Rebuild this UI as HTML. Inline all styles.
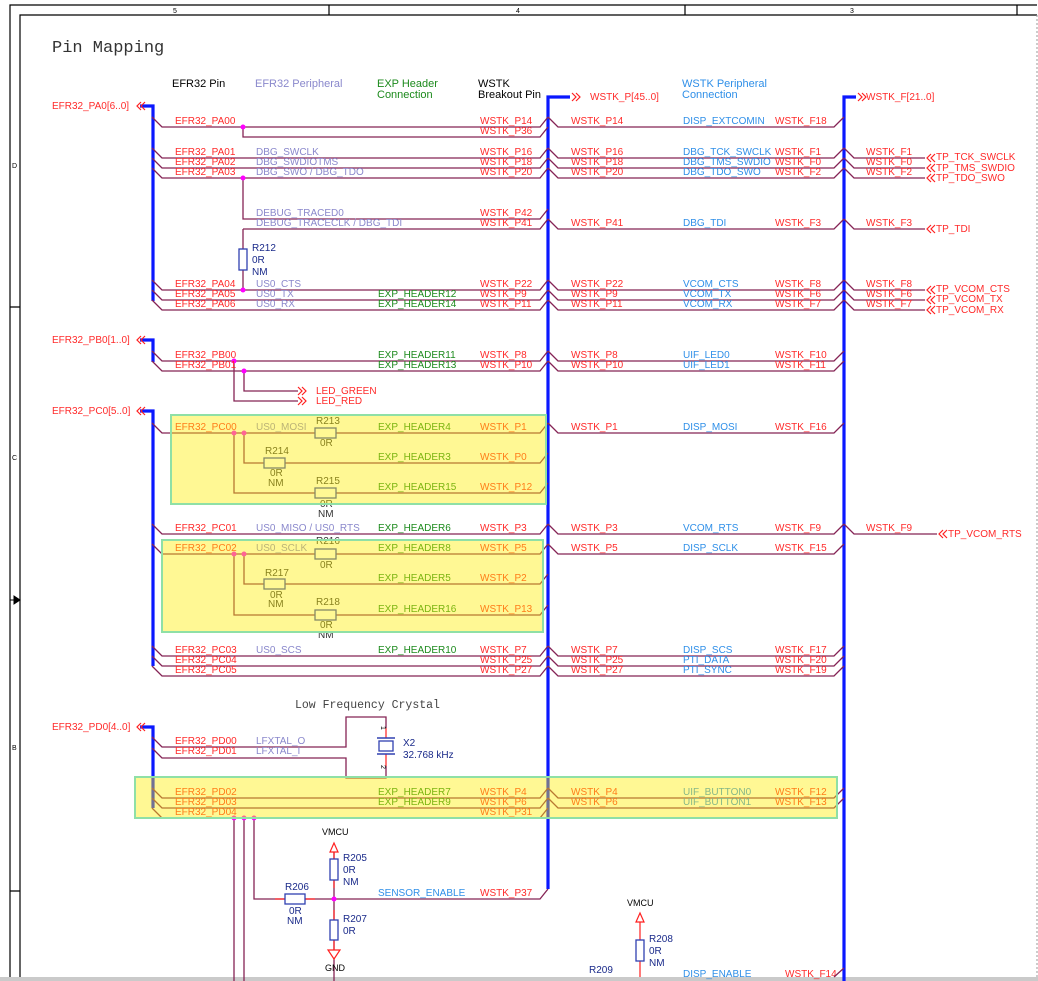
<!DOCTYPE html>
<html><head><meta charset="utf-8"><style>
html,body{margin:0;padding:0;background:#fff;}
svg{display:block;}
text{font-family:"Liberation Sans",sans-serif;font-size:10px;}
.r{fill:#ff2a2a}.p{fill:#8a88cc}.g{fill:#1c8a1c}.b{fill:#2f8fe8}.k{fill:#000}.n{fill:#1a2a8a}
.w{fill:none;stroke:#852455;stroke-width:1.3}
.bus{fill:none;stroke:#0a18ff;stroke-width:3.2}
.ar{fill:none;stroke:#ff2020;stroke-width:1.2}
.res{fill:#fff;stroke:#3040b0;stroke-width:1.3}
.red{stroke:#ff2020;stroke-width:1.2;fill:none}
.fr{stroke:#000;stroke-width:1.2;fill:none}
</style></head><body>
<svg width="1038" height="981" viewBox="0 0 1038 981" xmlns="http://www.w3.org/2000/svg">
<!-- frame -->
<path class="fr" d="M10 981V5H1037M20 981V15H1037M329 5V15M685 5V15M1017 5V15M10 307H20M10 891H20"/>
<line x1="1037" y1="15" x2="1037" y2="981" stroke="#999" stroke-dasharray="2,2"/>
<path d="M10 600H20M14 596L20 600L14 604Z" fill="#000" stroke="#000"/>
<text x="173" y="13" style="font-size:7px">5</text><text x="516" y="13" style="font-size:7px">4</text><text x="850" y="13" style="font-size:7px">3</text>
<text x="12" y="168" style="font-size:7px">D</text><text x="12" y="460" style="font-size:7px">C</text><text x="12" y="750" style="font-size:7px">B</text>
<rect x="0" y="977" width="1038" height="4" fill="#cacaca"/>

<text x="52" y="52" style="font-family:'Liberation Mono',monospace;font-size:17px;fill:#333">Pin Mapping</text>
<text x="172" y="87" class="k" style="font-size:11px">EFR32 Pin</text>
<text x="255" y="87" class="p" style="font-size:11px">EFR32 Peripheral</text>
<text x="377" y="87" class="g" style="font-size:11px">EXP Header</text><text x="377" y="98" class="g" style="font-size:11px">Connection</text>
<text x="478" y="87" class="k" style="font-size:11px">WSTK</text><text x="478" y="98" class="k" style="font-size:11px">Breakout Pin</text>
<text x="682" y="87" class="b" style="font-size:11px">WSTK Peripheral</text><text x="682" y="98" class="b" style="font-size:11px">Connection</text>

<!-- buses -->
<path class="bus" d="M140 106H153V301M140 340H153V362M140 411H153V666M140 727H153V808M548 889V97H570M844 981V97H856"/>
<path class="ar" d="M141 102L137 106L141 110M145 102L141 106L145 110M141 336L137 340L141 344M145 336L141 340L145 344M141 407L137 411L141 415M145 407L141 411L145 415M141 723L137 727L141 731M145 723L141 727L145 731"/>
<path class="ar" d="M572 93L576 97L572 101M576 93L580 97L576 101M858 93L862 97L858 101M862 93L866 97L862 101"/>
<text x="52" y="109" class="r">EFR32_PA0[6..0]</text>
<text x="52" y="343" class="r">EFR32_PB0[1..0]</text>
<text x="52" y="414" class="r">EFR32_PC0[5..0]</text>
<text x="52" y="730" class="r">EFR32_PD0[4..0]</text>
<text x="590" y="100" class="r">WSTK_P[45..0]</text>
<text x="866" y="100" class="r">WSTK_F[21..0]</text>

<!-- PA wires -->
<path class="w" d="M152 117L162 127H540L548 117M243 127V137H540L548 127
M152 148L162 158H540L548 148M152 158L162 168H540L548 158M152 168L162 178H540L548 168
M243 178V219H540L548 209M243 229H540L548 219M243 229V290
M152 280L162 290H540L548 280M152 290L162 300H540L548 290M152 300L162 310H540L548 300"/>
<path class="w" d="M548 117L558 127H834L844 117
M548 148L558 158H834L844 148M548 158L558 168H834L844 158M548 168L558 178H834L844 168
M548 219L558 229H834L844 219
M548 280L558 290H834L844 280M548 290L558 300H834L844 290M548 300L558 310H834L844 300
M844 148L854 158H925M844 158L854 168H925M844 168L854 178H925M844 219L854 229H925
M844 280L854 290H925M844 290L854 300H925M844 300L854 310H925"/>
<path class="ar" d="M931 154L927 158L931 162M935 154L931 158L935 162M931 164L927 168L931 172M935 164L931 168L935 172M931 174L927 178L931 182M935 174L931 178L935 182M931 225L927 229L931 233M935 225L931 229L935 233M931 286L927 290L931 294M935 286L931 290L935 294M931 296L927 300L931 304M935 296L931 300L935 304M931 306L927 310L931 314M935 306L931 310L935 314"/>
<rect class="res" x="239" y="249" width="8" height="21"/>
<g fill="#ff00ff"><circle cx="243" cy="127" r="2.5"/><circle cx="243" cy="178" r="2.5"/><circle cx="243" cy="290" r="2.5"/></g>
<text x="252" y="251" class="n">R212</text><text x="252" y="263" class="n">0R</text><text x="252" y="275" class="n">NM</text>

<g class="r">
<text x="175" y="124">EFR32_PA00</text><text x="480" y="124">WSTK_P14</text><text x="480" y="134">WSTK_P36</text>
<text x="175" y="155">EFR32_PA01</text><text x="175" y="165">EFR32_PA02</text><text x="175" y="175">EFR32_PA03</text>
<text x="480" y="155">WSTK_P16</text><text x="480" y="165">WSTK_P18</text><text x="480" y="175">WSTK_P20</text>
<text x="480" y="216">WSTK_P42</text><text x="480" y="226">WSTK_P41</text>
<text x="175" y="287">EFR32_PA04</text><text x="175" y="297">EFR32_PA05</text><text x="175" y="307">EFR32_PA06</text>
<text x="480" y="287">WSTK_P22</text><text x="480" y="297">WSTK_P9</text><text x="480" y="307">WSTK_P11</text>
<text x="571" y="124">WSTK_P14</text><text x="775" y="124">WSTK_F18</text>
<text x="571" y="155">WSTK_P16</text><text x="571" y="165">WSTK_P18</text><text x="571" y="175">WSTK_P20</text>
<text x="775" y="155">WSTK_F1</text><text x="775" y="165">WSTK_F0</text><text x="775" y="175">WSTK_F2</text>
<text x="866" y="155">WSTK_F1</text><text x="866" y="165">WSTK_F0</text><text x="866" y="175">WSTK_F2</text>
<text x="571" y="226">WSTK_P41</text><text x="775" y="226">WSTK_F3</text><text x="866" y="226">WSTK_F3</text>
<text x="571" y="287">WSTK_P22</text><text x="571" y="297">WSTK_P9</text><text x="571" y="307">WSTK_P11</text>
<text x="775" y="287">WSTK_F8</text><text x="775" y="297">WSTK_F6</text><text x="775" y="307">WSTK_F7</text>
<text x="866" y="287">WSTK_F8</text><text x="866" y="297">WSTK_F6</text><text x="866" y="307">WSTK_F7</text>
<text x="936" y="160">TP_TCK_SWCLK</text><text x="936" y="171">TP_TMS_SWDIO</text><text x="936" y="181">TP_TDO_SWO</text>
<text x="936" y="232">TP_TDI</text>
<text x="936" y="292">TP_VCOM_CTS</text><text x="936" y="302">TP_VCOM_TX</text><text x="936" y="313">TP_VCOM_RX</text>
</g>
<g class="p">
<text x="256" y="155">DBG_SWCLK</text><text x="256" y="165">DBG_SWDIOTMS</text><text x="256" y="175">DBG_SWO / DBG_TDO</text>
<text x="256" y="216">DEBUG_TRACED0</text><text x="256" y="226">DEBUG_TRACECLK / DBG_TDI</text>
<text x="256" y="287">US0_CTS</text><text x="256" y="297">US0_TX</text><text x="256" y="307">US0_RX</text>
</g>
<text x="378" y="297" class="g">EXP_HEADER12</text><text x="378" y="307" class="g">EXP_HEADER14</text>
<g class="b">
<text x="683" y="124">DISP_EXTCOMIN</text>
<text x="683" y="155">DBG_TCK_SWCLK</text><text x="683" y="165">DBG_TMS_SWDIO</text><text x="683" y="175">DBG_TDO_SWO</text>
<text x="683" y="226">DBG_TDI</text>
<text x="683" y="287">VCOM_CTS</text><text x="683" y="297">VCOM_TX</text><text x="683" y="307">VCOM_RX</text>
</g>

<!-- PB -->
<path class="w" d="M152 351L162 361H540L548 351M152 361L162 371H540L548 361M548 351L558 361H834L844 351M548 361L558 371H834L844 361
M234 361V401H298M244 371V391H298"/>
<path class="ar" d="M298 387L302 391L298 395M302 387L306 391L302 395M298 397L302 401L298 405M302 397L306 401L302 405"/>
<g fill="#ff00ff"><circle cx="234" cy="361" r="2.5"/><circle cx="244" cy="371" r="2.5"/></g>
<g class="r"><text x="175" y="358">EFR32_PB00</text><text x="175" y="368">EFR32_PB01</text>
<text x="480" y="358">WSTK_P8</text><text x="480" y="368">WSTK_P10</text><text x="571" y="358">WSTK_P8</text><text x="571" y="368">WSTK_P10</text>
<text x="775" y="358">WSTK_F10</text><text x="775" y="368">WSTK_F11</text>
<text x="316" y="394">LED_GREEN</text><text x="316" y="404">LED_RED</text></g>
<text x="378" y="358" class="g">EXP_HEADER11</text><text x="378" y="368" class="g">EXP_HEADER13</text>
<text x="683" y="358" class="b">UIF_LED0</text><text x="683" y="368" class="b">UIF_LED1</text>

<!-- PC -->
<path class="w" d="M152 423L162 433H540L548 423M244 433V463H540L548 453M234 433V493H540L548 483
M152 524L162 534H540L548 524M152 544L162 554H540L548 544M244 554V584H540L548 574M234 554V615H540L548 605
M152 646L162 656H540L548 646M152 656L162 666H540L548 656M152 666L162 676H540L548 666
M548 423L558 433H834L844 423M548 524L558 534H834L844 524M548 544L558 554H834L844 544
M548 646L558 656H834L844 646M548 656L558 666H834L844 656M548 666L558 676H834L844 666
M844 524L854 534H937"/>
<path class="ar" d="M943 530L939 534L943 538M947 530L943 534L947 538"/>
<rect class="res" x="315" y="428" width="21" height="10"/><rect class="res" x="264" y="458" width="21" height="10"/><rect class="res" x="315" y="488" width="21" height="10"/>
<rect class="res" x="315" y="549" width="21" height="10"/><rect class="res" x="264" y="579" width="21" height="10"/><rect class="res" x="315" y="610" width="21" height="10"/>
<g fill="#ff00ff"><circle cx="234" cy="433" r="2.5"/><circle cx="244" cy="433" r="2.5"/><circle cx="234" cy="554" r="2.5"/><circle cx="244" cy="554" r="2.5"/></g>
<g class="n" style="fill:#333">
<text x="316" y="424">R213</text><text x="320" y="446">0R</text>
<text x="265" y="454">R214</text><text x="270" y="476">0R</text><text x="268" y="486">NM</text>
<text x="316" y="484">R215</text><text x="320" y="507">0R</text><text x="318" y="517">NM</text>
<text x="316" y="544">R216</text><text x="320" y="568">0R</text>
<text x="265" y="576">R217</text><text x="270" y="598">0R</text><text x="268" y="607">NM</text>
<text x="316" y="605">R218</text><text x="320" y="628">0R</text><text x="318" y="638">NM</text>
</g>
<g class="r">
<text x="175" y="430">EFR32_PC00</text><text x="480" y="430">WSTK_P1</text><text x="480" y="460">WSTK_P0</text><text x="480" y="490">WSTK_P12</text>
<text x="175" y="531">EFR32_PC01</text><text x="480" y="531">WSTK_P3</text>
<text x="175" y="551">EFR32_PC02</text><text x="480" y="551">WSTK_P5</text><text x="480" y="581">WSTK_P2</text><text x="480" y="612">WSTK_P13</text>
<text x="175" y="653">EFR32_PC03</text><text x="175" y="663">EFR32_PC04</text><text x="175" y="673">EFR32_PC05</text>
<text x="480" y="653">WSTK_P7</text><text x="480" y="663">WSTK_P25</text><text x="480" y="673">WSTK_P27</text>
<text x="571" y="430">WSTK_P1</text><text x="775" y="430">WSTK_F16</text>
<text x="571" y="531">WSTK_P3</text><text x="775" y="531">WSTK_F9</text><text x="866" y="531">WSTK_F9</text><text x="948" y="537">TP_VCOM_RTS</text>
<text x="571" y="551">WSTK_P5</text><text x="775" y="551">WSTK_F15</text>
<text x="571" y="653">WSTK_P7</text><text x="571" y="663">WSTK_P25</text><text x="571" y="673">WSTK_P27</text>
<text x="775" y="653">WSTK_F17</text><text x="775" y="663">WSTK_F20</text><text x="775" y="673">WSTK_F19</text>
</g>
<g class="p"><text x="256" y="430">US0_MOSI</text><text x="256" y="531">US0_MISO / US0_RTS</text><text x="256" y="551">US0_SCLK</text><text x="256" y="653">US0_SCS</text></g>
<g class="g"><text x="378" y="430">EXP_HEADER4</text><text x="378" y="460">EXP_HEADER3</text><text x="378" y="490">EXP_HEADER15</text>
<text x="378" y="531">EXP_HEADER6</text><text x="378" y="551">EXP_HEADER8</text><text x="378" y="581">EXP_HEADER5</text><text x="378" y="612">EXP_HEADER16</text>
<text x="378" y="653">EXP_HEADER10</text></g>
<g class="b"><text x="683" y="430">DISP_MOSI</text><text x="683" y="531">VCOM_RTS</text><text x="683" y="551">DISP_SCLK</text>
<text x="683" y="653">DISP_SCS</text><text x="683" y="663">PTI_DATA</text><text x="683" y="673">PTI_SYNC</text></g>

<!-- PD -->
<text x="295" y="708" style="font-family:'Liberation Mono',monospace;font-size:11.5px;fill:#444">Low Frequency Crystal</text>
<path class="w" d="M152 737L162 747H346V717H386V728M152 748L162 758H346V778H386V766"/>
<path class="red" d="M386 728V738M386 754V766"/>
<path d="M377 738H395M377 754H395" stroke="#3040b0" stroke-width="1.5"/>
<rect class="res" x="379" y="741" width="14" height="10"/>
<text x="380" y="731" style="font-size:7px" transform="rotate(90 383 729)">1</text>
<text x="380" y="770" style="font-size:7px" transform="rotate(90 383 768)">2</text>
<text x="403" y="746" class="n">X2</text><text x="403" y="758" class="n">32.768 kHz</text>
<path class="w" d="M152 788L162 798H540L548 788M152 798L162 808H540L548 798M152 808L162 818H540L548 808
M548 788L558 798H834L844 788M548 798L558 808H834L844 798
M234 818V981M244 818V981M254 818V899H540L548 889M334 852V981"/>
<path class="red" d="M334 852V859M334 880V888M334 910V920M334 940V950M275 899H285M305 899H315"/>
<path d="M334 843L338 852H330Z" fill="#fff" stroke="#ff2020" stroke-width="1.2"/>
<path d="M328 950H340L334 959Z" fill="#fff" stroke="#ff2020" stroke-width="1.2"/>
<rect class="res" x="330" y="859" width="8" height="21"/><rect class="res" x="330" y="920" width="8" height="20"/><rect class="res" x="285" y="894" width="20" height="10"/>
<g fill="#ff00ff"><circle cx="234" cy="818" r="2.5"/><circle cx="244" cy="818" r="2.5"/><circle cx="254" cy="818" r="2.5"/><circle cx="334" cy="899" r="2.5"/></g>
<text x="322" y="835" class="k" style="font-size:9px">VMCU</text><text x="325" y="971" class="k" style="font-size:9px">GND</text>
<g class="n"><text x="343" y="861">R205</text><text x="343" y="873">0R</text><text x="343" y="885">NM</text>
<text x="343" y="922">R207</text><text x="343" y="934">0R</text>
<text x="285" y="890">R206</text><text x="289" y="914">0R</text><text x="287" y="924">NM</text></g>
<g class="r"><text x="175" y="744">EFR32_PD00</text><text x="175" y="754">EFR32_PD01</text>
<text x="175" y="795">EFR32_PD02</text><text x="175" y="805">EFR32_PD03</text><text x="175" y="815">EFR32_PD04</text>
<text x="480" y="795">WSTK_P4</text><text x="480" y="805">WSTK_P6</text><text x="480" y="815">WSTK_P31</text>
<text x="571" y="795">WSTK_P4</text><text x="571" y="805">WSTK_P6</text><text x="775" y="795">WSTK_F12</text><text x="775" y="805">WSTK_F13</text>
<text x="480" y="896">WSTK_P37</text><text x="785" y="977">WSTK_F14</text></g>
<g class="p"><text x="256" y="744">LFXTAL_O</text><text x="256" y="754">LFXTAL_I</text></g>
<text x="378" y="795" class="g">EXP_HEADER7</text><text x="378" y="805" class="g">EXP_HEADER9</text>
<g class="b"><text x="683" y="795">UIF_BUTTON0</text><text x="683" y="805">UIF_BUTTON1</text><text x="378" y="896">SENSOR_ENABLE</text><text x="683" y="977">DISP_ENABLE</text></g>

<!-- bottom right -->
<path class="red" d="M640 922V940M640 961V977"/>
<path d="M640 913L644 922H636Z" fill="#fff" stroke="#ff2020" stroke-width="1.2"/>
<rect class="res" x="636" y="940" width="8" height="21"/>
<text x="627" y="906" class="k" style="font-size:9px">VMCU</text>
<g class="n"><text x="649" y="942">R208</text><text x="649" y="954">0R</text><text x="649" y="966">NM</text><text x="589" y="973">R209</text></g>
<path class="w" d="M834 977L844 968"/>

<!-- yellow overlay boxes -->
<g fill="rgba(255,238,0,0.42)" stroke="#8fe0a6" stroke-width="2">
<rect x="171" y="415" width="375" height="89"/>
<rect x="162" y="540" width="381" height="92"/>
<rect x="135" y="777" width="702" height="41"/>
</g>
</svg>
</body></html>
